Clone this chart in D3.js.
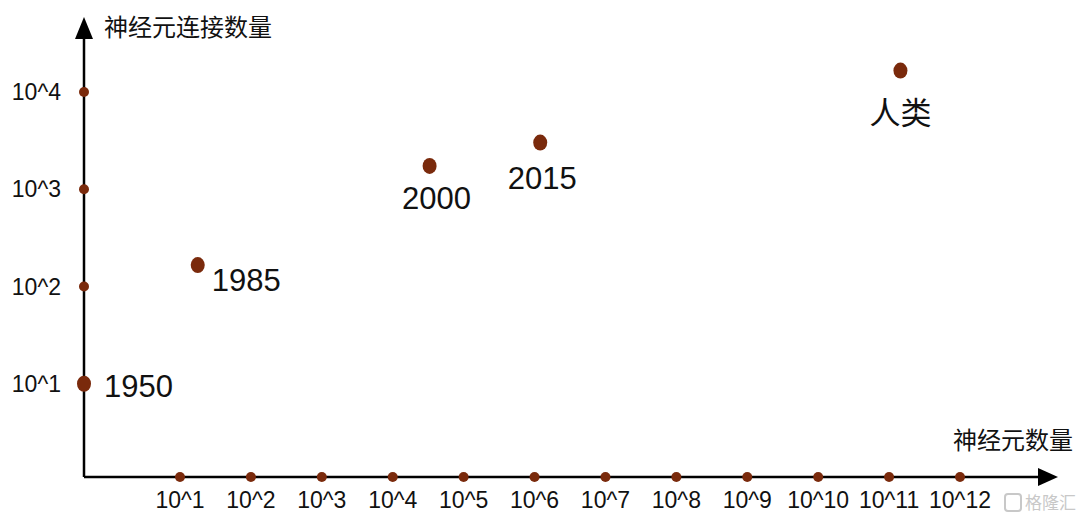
<!DOCTYPE html>
<html><head><meta charset="utf-8">
<script src="https://cdn.jsdelivr.net/npm/d3@7"></script>
<style>
html,body{margin:0;padding:0;background:#fff;}
text{font-family:Arial,"Liberation Sans","Noto Sans CJK SC",sans-serif;}
</style></head>
<body>
<svg id="c" width="1080" height="520"></svg>
<script>
// exponents for tick labels (10^n)
const xTickExps = [1,2,3,4,5,6,7,8,9,10,11,12];
const yTickExps = [1,2,3,4];
// data points: label, log10(neurons), log10(connections)
const pointLabels = ["1950","1985","2000","2015","人类"];
const pointX = [0, 1.25, 4.52, 6.08, 11.16];
const pointY = [1, 2.22, 3.24, 3.48, 4.22];
const xTitle = "神经元数量";
const yTitle = "神经元连接数量";

const svg = d3.select("#c");
const ox = 84, oy = 477;
const brown = "#7a2a0c";

const x = d3.scaleLinear().domain([0, 1, 12]).range([ox, 180, 960]);
const y = d3.scaleLinear().domain([0, 4]).range([481, 92]);

// axes lines
svg.append("line").attr("x1", ox).attr("y1", oy).attr("x2", 1042).attr("y2", oy)
  .attr("stroke", "#000").attr("stroke-width", 2.5);
svg.append("line").attr("x1", ox).attr("y1", oy).attr("x2", ox).attr("y2", 36)
  .attr("stroke", "#000").attr("stroke-width", 2.5);
// arrows
svg.append("path").attr("d", `M${ox},17 L${ox-9},39 L${ox+9},39 Z`).attr("fill", "#000");
svg.append("path").attr("d", `M1058,${oy} L1038,${oy-9} L1038,${oy+9} Z`).attr("fill", "#000");

// x ticks
svg.selectAll(".xt").data(xTickExps).enter().append("circle")
  .attr("cx", d => x(d)).attr("cy", oy).attr("r", 5).attr("fill", brown);
svg.selectAll(".xl").data(xTickExps).enter().append("text")
  .attr("x", d => x(d)).attr("y", 508).attr("text-anchor", "middle")
  .attr("font-size", 23).attr("fill", "#111").text(d => "10^" + d);

// y ticks
svg.selectAll(".yt").data(yTickExps).enter().append("circle")
  .attr("cx", ox).attr("cy", d => y(d)).attr("r", 5).attr("fill", brown);
svg.selectAll(".yl").data(yTickExps).enter().append("text")
  .attr("x", 61).attr("y", d => y(d) + 8).attr("text-anchor", "end")
  .attr("font-size", 23).attr("fill", "#111").text(d => "10^" + d);

// titles
svg.append("text").attr("x", 104).attr("y", 36).attr("font-size", 24)
  .attr("font-family", "'Noto Sans CJK SC',sans-serif").attr("fill", "#111").text(yTitle);
svg.append("text").attr("x", 1073).attr("y", 449).attr("text-anchor", "end").attr("font-size", 24)
  .attr("font-family", "'Noto Sans CJK SC',sans-serif").attr("fill", "#111").text(xTitle);

// points
const pts = pointLabels.map((l, i) => ({l, x: pointX[i], y: pointY[i]}));
svg.selectAll(".p").data(pts).enter().append("ellipse")
  .attr("cx", d => x(d.x)).attr("cy", d => y(d.y)).attr("rx", 7).attr("ry", 8).attr("fill", brown);

// point labels (placement per label)
const lblPos = [
  {dx: 20, dy: 13, anchor: "start"},
  {dx: 14, dy: 26, anchor: "start"},
  {dx: 7, dy: 43, anchor: "middle"},
  {dx: 2, dy: 46, anchor: "middle"},
  {dx: 0, dy: 53, anchor: "middle"}
];
svg.selectAll(".pl").data(pts).enter().append("text")
  .attr("x", (d, i) => x(d.x) + lblPos[i].dx)
  .attr("y", (d, i) => y(d.y) + lblPos[i].dy)
  .attr("text-anchor", (d, i) => lblPos[i].anchor)
  .attr("font-size", 31).attr("fill", "#111")
  .attr("font-family", (d, i) => i === 4 ? "'Noto Sans CJK SC',sans-serif" : "Arial,'Liberation Sans',sans-serif")
  .text(d => d.l);

// watermark
svg.append("text").attr("x", 1076).attr("y", 509).attr("text-anchor", "end").attr("font-size", 17)
  .attr("font-family", "'Noto Sans CJK SC',sans-serif").attr("fill", "#c8c8c8").text("格隆汇");
svg.append("rect").attr("x", 1005).attr("y", 494).attr("width", 16).attr("height", 17).attr("rx", 3)
  .attr("fill", "none").attr("stroke", "#c8c8c8").attr("stroke-width", 2);
</script>
</body></html>
